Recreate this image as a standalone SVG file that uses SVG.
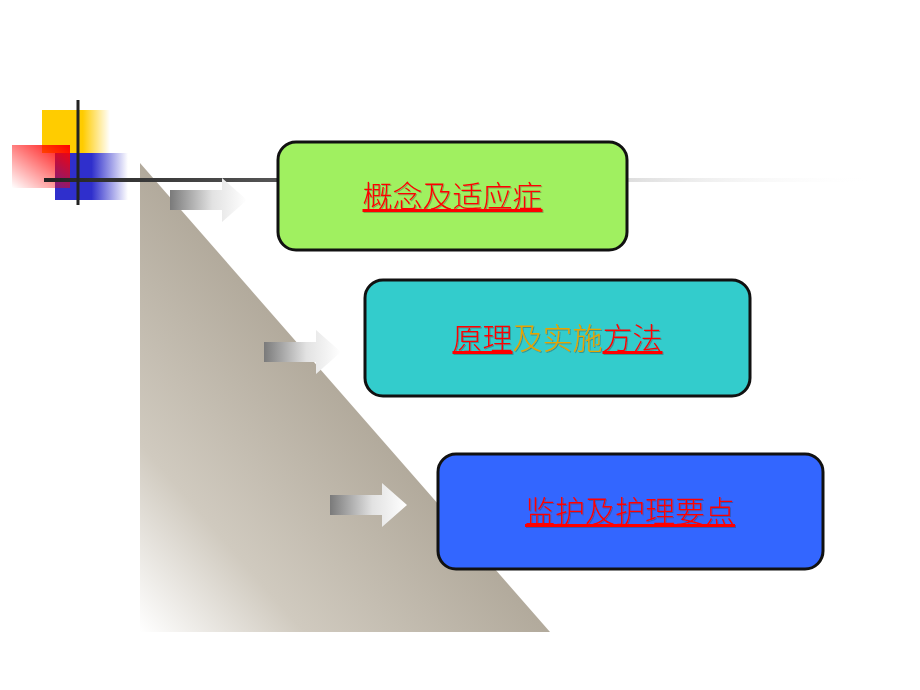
<svg xmlns="http://www.w3.org/2000/svg" width="920" height="690" viewBox="0 0 920 690">
<defs>
<linearGradient id="tri" gradientUnits="userSpaceOnUse" x1="140" y1="632" x2="373" y2="429">
<stop offset="0" stop-color="#ffffff"/>
<stop offset="0.4" stop-color="#d0cabf"/>
<stop offset="1" stop-color="#b2aa9c"/>
</linearGradient>
<linearGradient id="arr" x1="0" y1="0" x2="1" y2="0">
<stop offset="0" stop-color="#7a7a7a"/>
<stop offset="0.55" stop-color="#e2e2e2"/>
<stop offset="1" stop-color="#ffffff"/>
</linearGradient>
<linearGradient id="yel" x1="0" y1="0" x2="1" y2="0">
<stop offset="0" stop-color="#ffcc00"/>
<stop offset="0.6" stop-color="#ffcc00"/>
<stop offset="1" stop-color="#ffcc00" stop-opacity="0"/>
</linearGradient>
<linearGradient id="red" x1="1" y1="0" x2="0" y2="1">
<stop offset="0" stop-color="#ff0000"/>
<stop offset="1" stop-color="#ff0000" stop-opacity="0"/>
</linearGradient>
<linearGradient id="blu" x1="0" y1="0" x2="1" y2="0">
<stop offset="0" stop-color="#2f2fcc"/>
<stop offset="0.5" stop-color="#2f2fcc"/>
<stop offset="1" stop-color="#2f2fcc" stop-opacity="0"/>
</linearGradient>
<linearGradient id="hline" gradientUnits="userSpaceOnUse" x1="44" y1="0" x2="875" y2="0">
<stop offset="0" stop-color="#222222"/>
<stop offset="0.28" stop-color="#555555"/>
<stop offset="0.7" stop-color="#dddddd"/>
<stop offset="1" stop-color="#ffffff" stop-opacity="0"/>
</linearGradient>
<filter id="sh" x="-5%" y="-20%" width="110%" height="140%">
<feDropShadow dx="1" dy="1" stdDeviation="0.4" flood-color="#333333" flood-opacity="0.35"/>
</filter>
<path id="arrow" d="M0,-10 H52 V-22 L77,0 L52,22 V10 H0 Z"/>
</defs>
<style>
.box{stroke:#111111;stroke-width:3}
.lbl{font-family:"Noto Sans CJK SC","Noto Sans",sans-serif;font-size:30px;font-weight:300;text-anchor:middle;filter:url(#sh)}
.r{fill:#ff0000;text-decoration:underline}
.o{fill:#e8a400}
</style>
<rect width="920" height="690" fill="#ffffff"/>
<g id="decor">
<polygon points="140,163 140,632 550,632" fill="url(#tri)"/>
<rect x="42" y="110" width="68" height="43" fill="url(#yel)"/>
<rect x="55" y="153" width="73" height="47" fill="url(#blu)"/>
<rect x="12" y="145" width="58" height="43" fill="url(#red)"/>
<rect x="44" y="178" width="831" height="4" fill="url(#hline)"/>
<rect x="76.5" y="100" width="3" height="105" fill="#222222"/>
</g>
<g id="connectors">
<use href="#arrow" x="170" y="200" fill="url(#arr)"/>
<use href="#arrow" x="264" y="352" fill="url(#arr)"/>
<use href="#arrow" x="330" y="505" fill="url(#arr)"/>
</g>
<g id="node1">
<rect class="box" x="278" y="142" width="349" height="108" rx="18" fill="#a0f060"/>
<text class="lbl" x="452.5" y="207"><tspan class="r">概念及适应症</tspan></text>
</g>
<g id="node2">
<rect class="box" x="365" y="280" width="385" height="116" rx="18" fill="#33cccc"/>
<text class="lbl" x="557.5" y="349"><tspan class="r">原理</tspan><tspan class="o">及实施</tspan><tspan class="r">方法</tspan></text>
</g>
<g id="node3">
<rect class="box" x="438" y="454" width="385" height="115" rx="18" fill="#3366ff"/>
<text class="lbl" x="630" y="522"><tspan class="r">监护及护理要点</tspan></text>
</g>
</svg>
